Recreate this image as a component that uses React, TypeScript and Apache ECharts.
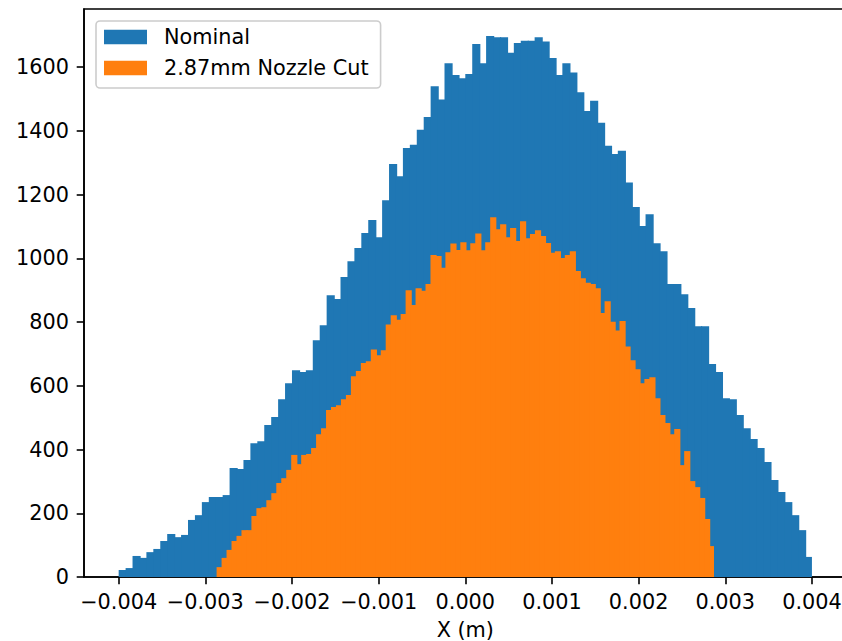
import React, { useEffect, useRef } from "react";
import * as echarts from "echarts";

// Histogram counts per bin (100 equal bins across each series' range)
const nominalRange = [-0.004, 0.004];
const nominalCounts = [
  22, 28, 66, 60, 78, 88, 113, 135, 125, 132,
  179, 194, 235, 251, 251, 257, 342, 339, 367, 420,
  426, 477, 502, 558, 608, 649, 643, 649, 743, 790,
  884, 872, 941, 991, 1032, 1079, 1120, 1066, 1182, 1296,
  1257, 1346, 1356, 1403, 1443, 1540, 1498, 1612, 1575, 1565,
  1578, 1672, 1612, 1697, 1693, 1693, 1645, 1675, 1682, 1682,
  1693, 1680, 1628, 1575, 1612, 1583, 1521, 1462, 1494, 1425,
  1353, 1327, 1337, 1238, 1161, 1101, 1138, 1047, 1022, 919,
  919, 887, 844, 787, 787, 668, 643, 561, 558, 508,
  467, 433, 405, 361, 304, 267, 235, 194, 147, 63,
];

const nozzleCutRange = [-0.00287, 0.00287];
const nozzleCutCounts = [
  31, 60, 85, 113, 129, 147, 147, 191, 216, 219,
  241, 263, 295, 310, 336, 383, 354, 383, 386, 405,
  448, 467, 524, 533, 539, 558, 571, 630, 646, 671,
  677, 714, 696, 711, 792, 821, 807, 825, 900, 853,
  906, 898, 919, 1010, 1007, 970, 1019, 1046, 1026, 1050,
  1025, 1047, 1078, 1025, 1050, 1129, 1091, 1107, 1066, 1095,
  1054, 1116, 1063, 1076, 1088, 1070, 1048, 1017, 1022, 1001,
  1010, 1022, 960, 937, 923, 919, 906, 828, 865, 801,
  773, 803, 723, 680, 652, 608, 621, 627, 561, 508,
  483, 448, 464, 351, 395, 301, 282, 248, 182, 97,
];

const seriesNames = ["Nominal", "2.87mm Nozzle Cut"];
const seriesColors = ["#1f77b4", "#ff7f0e"];

const xTicks = [-0.004, -0.003, -0.002, -0.001, 0, 0.001, 0.002, 0.003, 0.004];
const yTicks = [0, 200, 400, 600, 800, 1000, 1200, 1400, 1600];
const xLimits = [-0.0044, 0.0044];
const yLimits = [0, 1782];

const FONT = "DejaVu Sans";
const FS = 20.8;

// Turn a range and per-bin counts into [left edge, right edge, count] rows
function toBins(range: number[], counts: number[]) {
  const n = counts.length;
  const w = (range[1] - range[0]) / n;
  return counts.map((c, i) => [range[0] + i * w, range[0] + (i + 1) * w, c]);
}

function histSeries(name: string, color: string, rows: number[][]) {
  const last = rows.length - 1;
  return {
    name,
    type: "custom",
    itemStyle: { color },
    encode: { x: [0, 1], y: 2 },
    data: rows,
    renderItem: (params: any, api: any) => {
      const top = api.coord([api.value(0), api.value(2)]);
      const bottom = api.coord([api.value(1), 0]);
      // slight overlap into the next bin so neighbouring bars join without seams
      const overlap = params.dataIndex === last ? 0 : 1.2;
      return {
        type: "rect",
        shape: {
          x: top[0],
          y: top[1],
          width: bottom[0] - top[0] + overlap,
          height: bottom[1] - top[1],
        },
        style: { fill: color },
      };
    },
  };
}

const fmtX = (v: number) => v.toFixed(3).replace("-", "\u2212");

export default function App() {
  const ref = useRef<HTMLDivElement>(null);

  useEffect(() => {
    if (!ref.current) return;
    const chart = echarts.init(ref.current, null, { renderer: "svg" });
    chart.setOption({
      animation: false,
      backgroundColor: "#ffffff",
      textStyle: { fontFamily: FONT },
      grid: {
        left: 84,
        top: 9,
        right: 13.4,
        bottom: 64,
        outerBoundsMode: "none",
        containLabel: false,
        show: true,
        borderColor: "#000",
        borderWidth: 1.6,
        backgroundColor: "transparent",
      },
      legend: {
        left: 96,
        top: 21,
        orient: "vertical",
        selectedMode: false,
        backgroundColor: "rgba(255,255,255,0.8)",
        borderColor: "#cccccc",
        borderWidth: 1.6,
        borderRadius: 4,
        padding: [4, 12, 8, 8],
        itemWidth: 43,
        itemHeight: 14.5,
        itemGap: 7,
        data: seriesNames.map((n) => ({ name: n, icon: "rect" })),
        textStyle: {
          fontFamily: FONT,
          fontSize: FS,
          color: "#000",
          lineHeight: 24,
          padding: [0, 0, 0, 12],
        },
      },
      xAxis: {
        type: "value",
        min: xLimits[0],
        max: xLimits[1],
        name: "X (m)",
        nameLocation: "middle",
        nameGap: 42,
        nameTextStyle: { fontFamily: FONT, fontSize: FS, color: "#000" },
        splitLine: { show: false },
        axisLine: { show: true, onZero: false, lineStyle: { color: "#000", width: 1.6 } },
        axisTick: {
          show: true,
          length: 7.3,
          lineStyle: { color: "#000", width: 1.6 },
          customValues: xTicks,
        },
        axisLabel: {
          fontFamily: FONT,
          fontSize: FS,
          color: "#000",
          margin: 14,
          customValues: xTicks,
          formatter: (v: number) => fmtX(v),
        },
      },
      yAxis: {
        type: "value",
        min: yLimits[0],
        max: yLimits[1],
        splitLine: { show: false },
        axisLine: { show: true, onZero: false, lineStyle: { color: "#000", width: 1.6 } },
        axisTick: {
          show: true,
          length: 7.3,
          lineStyle: { color: "#000", width: 1.6 },
          customValues: yTicks,
        },
        axisLabel: {
          fontFamily: FONT,
          fontSize: FS,
          color: "#000",
          margin: 15,
          customValues: yTicks,
          formatter: (v: number) => String(v),
        },
      },
      series: [
        histSeries(seriesNames[0], seriesColors[0], toBins(nominalRange, nominalCounts)),
        histSeries(seriesNames[1], seriesColors[1], toBins(nozzleCutRange, nozzleCutCounts)),
      ],
    });
    return () => chart.dispose();
  }, []);

  return (
    <div
      style={{
        position: "fixed",
        left: 0,
        top: 0,
        width: 842,
        height: 641,
        overflow: "hidden",
        background: "#fff",
      }}
    >
      <div ref={ref} style={{ width: 860, height: 641 }} />
    </div>
  );
}
